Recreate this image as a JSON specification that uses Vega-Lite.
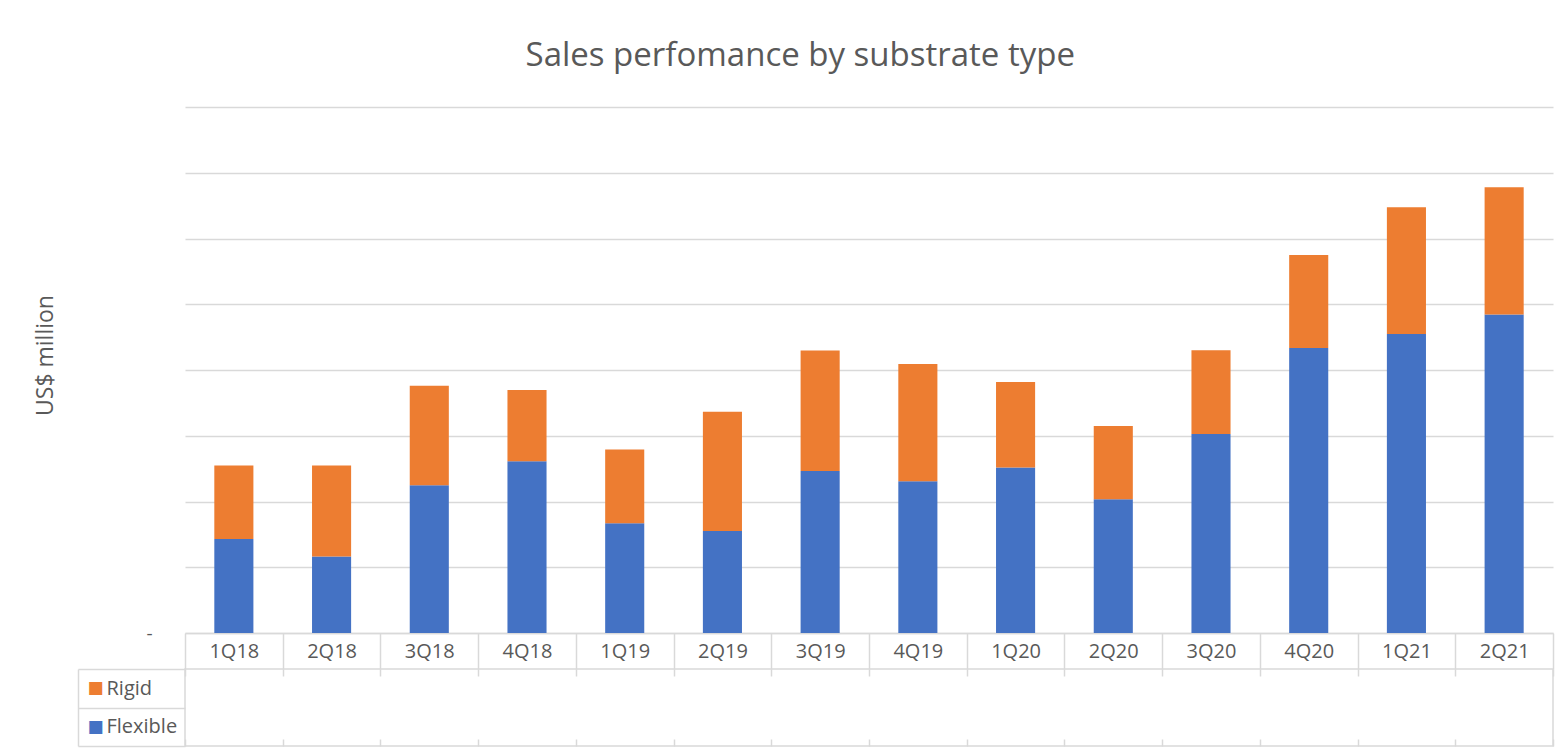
{
  "$schema": "https://vega.github.io/schema/vega-lite/v6.json",
  "background": "white",
  "padding": {"left": 34, "top": 40, "right": 14, "bottom": 11},
  "title": {"text": "Sales perfomance by substrate type", "fontSize": 33, "font": "Open Sans", "fontWeight": "normal", "color": "#595959", "anchor": "middle", "offset": 34, "dx": 6},
  "config": {"view": {"stroke": null}, "font": "Open Sans"},
  "datasets": {
    "sales": [
      {"quarter": "1Q18", "series": "Flexible", "value": 71.5},
      {"quarter": "1Q18", "series": "Rigid", "value": 55.8},
      {"quarter": "2Q18", "series": "Flexible", "value": 58.1},
      {"quarter": "2Q18", "series": "Rigid", "value": 69.2},
      {"quarter": "3Q18", "series": "Flexible", "value": 112.4},
      {"quarter": "3Q18", "series": "Rigid", "value": 75.6},
      {"quarter": "4Q18", "series": "Flexible", "value": 130.7},
      {"quarter": "4Q18", "series": "Rigid", "value": 54.0},
      {"quarter": "1Q19", "series": "Flexible", "value": 83.5},
      {"quarter": "1Q19", "series": "Rigid", "value": 56.0},
      {"quarter": "2Q19", "series": "Flexible", "value": 77.6},
      {"quarter": "2Q19", "series": "Rigid", "value": 90.6},
      {"quarter": "3Q19", "series": "Flexible", "value": 123.1},
      {"quarter": "3Q19", "series": "Rigid", "value": 91.7},
      {"quarter": "4Q19", "series": "Flexible", "value": 115.4},
      {"quarter": "4Q19", "series": "Rigid", "value": 89.1},
      {"quarter": "1Q20", "series": "Flexible", "value": 125.8},
      {"quarter": "1Q20", "series": "Rigid", "value": 65.0},
      {"quarter": "2Q20", "series": "Flexible", "value": 101.7},
      {"quarter": "2Q20", "series": "Rigid", "value": 55.8},
      {"quarter": "3Q20", "series": "Flexible", "value": 151.4},
      {"quarter": "3Q20", "series": "Rigid", "value": 63.7},
      {"quarter": "4Q20", "series": "Flexible", "value": 216.7},
      {"quarter": "4Q20", "series": "Rigid", "value": 70.7},
      {"quarter": "1Q21", "series": "Flexible", "value": 227.3},
      {"quarter": "1Q21", "series": "Rigid", "value": 96.4},
      {"quarter": "2Q21", "series": "Flexible", "value": 242.2},
      {"quarter": "2Q21", "series": "Rigid", "value": 96.7}
    ]
  },
  "data": {"name": "sales"},
  "bounds": "flush",
  "spacing": 36,
  "vconcat": [
    {
      "width": 1368,
      "height": 526,
      "mark": {"type": "bar", "width": {"band": 0.4}},
      "encoding": {
        "x": {
          "field": "quarter", "type": "nominal", "sort": null,
          "scale": {"paddingInner": 0, "paddingOuter": 0},
          "axis": {"title": null, "tickBand": "extent", "tickSize": 36, "tickColor": "#d9d9d9", "tickWidth": 1.5, "domainColor": "#d9d9d9", "domainWidth": 1.5, "labelFontSize": 20, "labelColor": "#595959", "labelAngle": 0, "labelBaseline": "middle", "labelPadding": -18, "labelFont": "Open Sans"}
        },
        "y": {
          "field": "value", "type": "quantitative", "stack": "zero",
          "scale": {"domain": [0, 400], "nice": false},
          "axis": {"title": "US$ million", "titleFontSize": 23, "titleFont": "Open Sans", "titleFontWeight": "normal", "titleColor": "#595959", "titleX": -140, "titleY": 248, "titleBaseline": "middle", "values": [0, 50, 100, 150, 200, 250, 300, 350, 400], "labelExpr": "datum.value == 0 ? '-' : ''", "labelPadding": 33, "labelFontSize": 19, "labelColor": "#595959", "ticks": false, "domain": false, "gridColor": "#d9d9d9", "gridWidth": 1.5}
        },
        "color": {"field": "series", "type": "nominal", "scale": {"domain": ["Flexible", "Rigid"], "range": ["#4472C4", "#ED7D31"]}, "legend": null},
        "order": {"field": "series", "sort": "ascending"}
      }
    },
    {
      "width": 1368,
      "height": 77,
      "view": {"stroke": "#d9d9d9", "strokeWidth": 1.5},
      "layer": [
        {
          "mark": {"type": "rect", "opacity": 0},
          "encoding": {
            "x": {"field": "quarter", "type": "nominal", "sort": null, "scale": {"paddingInner": 0, "paddingOuter": 0},
              "axis": {"orient": "top", "title": null, "labels": false, "domain": false, "tickBand": "extent", "tickSize": -7, "tickColor": "#d9d9d9", "tickWidth": 1.5}},
            "y": {"field": "series", "type": "nominal", "scale": {"domain": ["Rigid", "Flexible"], "paddingInner": 0, "paddingOuter": 0},
              "axis": {"orient": "left", "title": null, "domain": false, "tickBand": "extent", "tickSize": 107, "tickColor": "#d9d9d9", "tickWidth": 1.5, "labelAlign": "left", "labelPadding": -28, "labelFontSize": 20, "labelColor": "#595959", "labelBaseline": "middle", "labelFont": "Open Sans"}}
          }
        },
        {
          "mark": {"type": "rect", "opacity": 0},
          "encoding": {
            "x": {"field": "quarter", "type": "nominal", "sort": null, "scale": {"paddingInner": 0, "paddingOuter": 0},
              "axis": {"orient": "bottom", "title": null, "labels": false, "domain": false, "tickBand": "extent", "tickSize": -7, "tickColor": "#d9d9d9", "tickWidth": 1.5}},
            "y": {"field": "series", "type": "nominal", "scale": {"domain": ["Rigid", "Flexible"], "paddingInner": 0, "paddingOuter": 0},
              "axis": {"orient": "left", "title": null, "offset": 107, "ticks": false, "tickSize": 0, "domain": true, "domainColor": "#d9d9d9", "domainWidth": 1.5, "labelExpr": "'■'", "labelAlign": "left", "labelPadding": -9, "labelFontSize": 17, "labelFont": "DejaVu Sans", "labelBaseline": "middle", "labelColor": {"condition": {"test": "datum.value === 'Rigid'", "value": "#ED7D31"}, "value": "#4472C4"}}}
          }
        }
      ],
      "resolve": {"axis": {"x": "independent", "y": "independent"}}
    }
  ]
}
